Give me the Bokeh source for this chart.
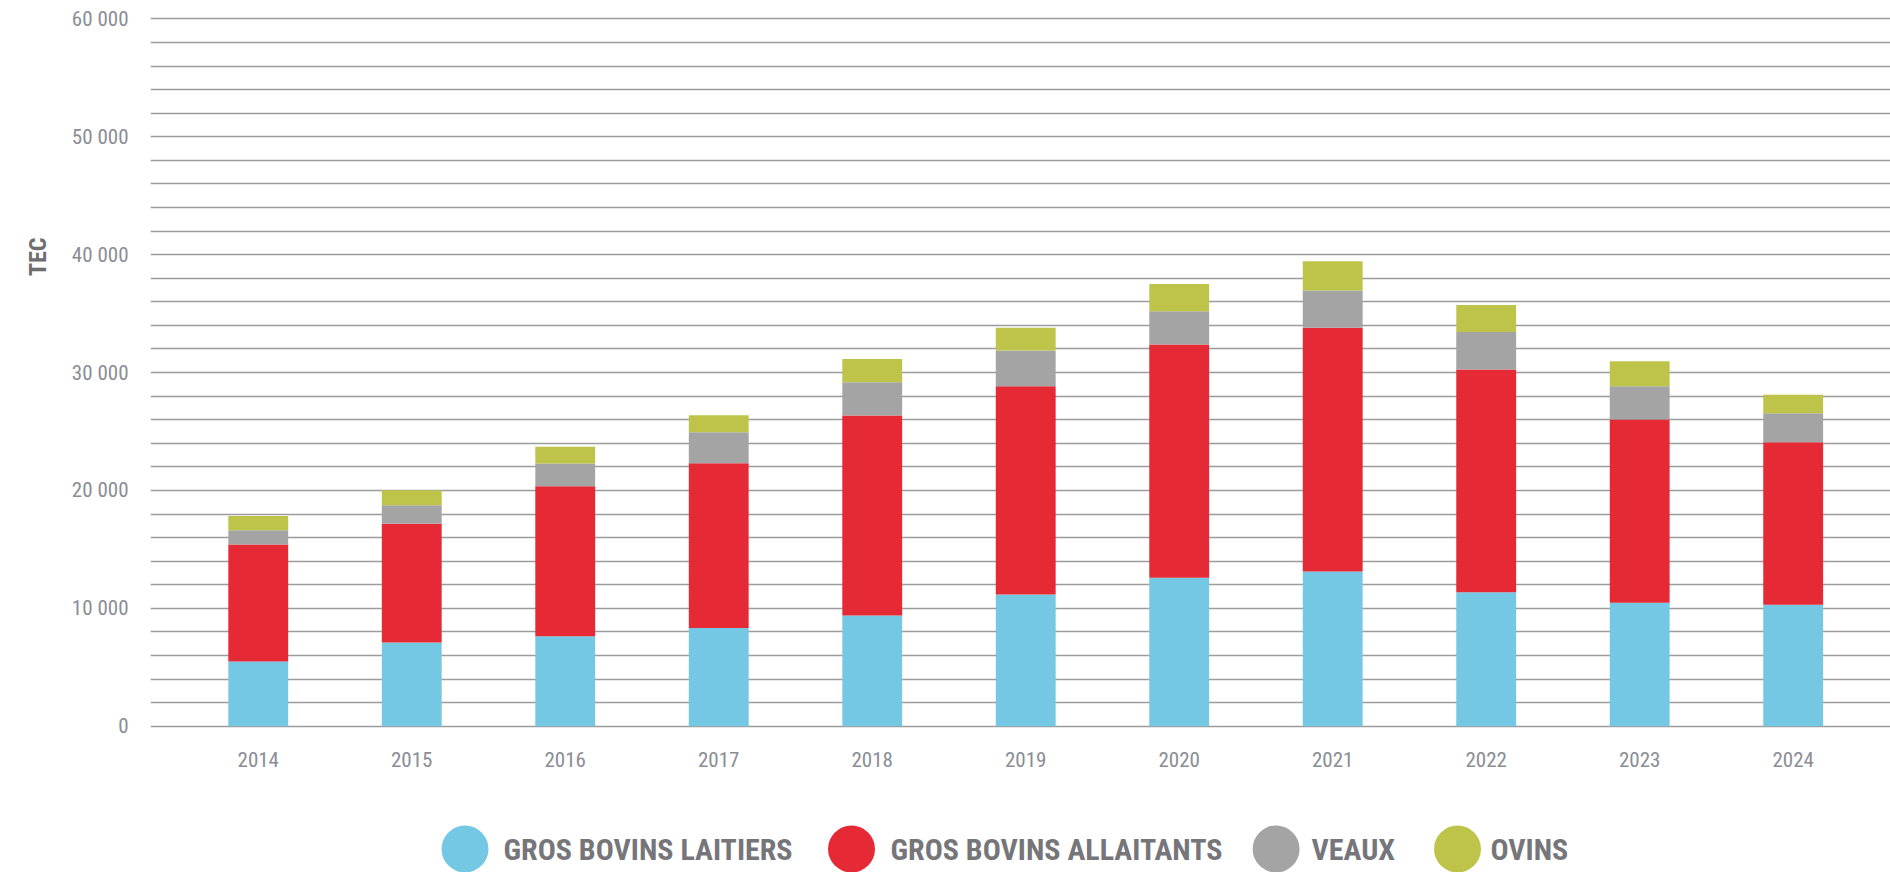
from bokeh.plotting import figure
from bokeh.models import Range1d, FixedTicker, Title, ColumnDataSource
from bokeh.layouts import column
from bokeh.embed import file_html
from bokeh.resources import INLINE
from bokeh.core.properties import value

# ---- data (TEC) ----
years = [2014, 2015, 2016, 2017, 2018, 2019, 2020, 2021, 2022, 2023, 2024]
gros_bovins_laitiers = [5490, 7100, 7630, 8340, 9390, 11170, 12590, 13120, 11370, 10470, 10300]
gros_bovins_allaitants = [9920, 10070, 12730, 13970, 16960, 17670, 19780, 20670, 18880, 15540, 13790]
veaux = [1210, 1580, 1920, 2630, 2830, 3030, 2830, 3160, 3200, 2830, 2460]
ovins = [1220, 1270, 1420, 1440, 1980, 1920, 2320, 2490, 2290, 2120, 1560]

series_keys = ["laitiers", "allaitants", "veaux", "ovins"]
series_labels = ["GROS BOVINS LAITIERS", "GROS BOVINS ALLAITANTS", "VEAUX", "OVINS"]
series_colors = ["#74C8E4", "#E52935", "#A4A4A4", "#BEC44A"]

y_ticks = [0, 10000, 20000, 30000, 40000, 50000, 60000]
y_tick_labels = ["0", "10 000", "20 000", "30 000", "40 000", "50 000", "60 000"]
y_axis_title = "TEC"

FONT = "Roboto Condensed"

source = ColumnDataSource(dict(
    year=years,
    laitiers=gros_bovins_laitiers,
    allaitants=gros_bovins_allaitants,
    veaux=veaux,
    ovins=ovins,
))

W = 1890
H1 = 790
FRAME_L = 150
p = figure(width=W, height=H1, output_backend="svg", toolbar_location=None,
           x_range=Range1d(2013.298, 2024.634), y_range=Range1d(-190, 60200),
           min_border_left=FRAME_L, min_border_right=0, min_border_top=16, min_border_bottom=62)
p.outline_line_color = None
p.background_fill_color = "white"
p.border_fill_color = "white"

p.vbar_stack(series_keys, x="year", width=0.39, color=series_colors, source=source,
             line_color=None)

# grid
p.xgrid.grid_line_color = None
p.ygrid.ticker = FixedTicker(ticks=list(range(0, 60001, 2000)))
p.ygrid.grid_line_color = "#9c9c9c"
p.ygrid.grid_line_width = 1.7
p.ygrid.level = "underlay"

# axes
p.xaxis.ticker = FixedTicker(ticks=years)
p.yaxis.ticker = FixedTicker(ticks=y_ticks)
p.yaxis.major_label_overrides = {t: l for t, l in zip(y_ticks, y_tick_labels)}
for ax in (p.xaxis, p.yaxis):
    ax.axis_line_color = None
    ax.major_tick_line_color = None
    ax.minor_tick_line_color = None
    ax.major_label_text_font = FONT
    ax.major_label_text_font_size = "21px"
    ax.major_label_text_color = "#8a8d94"
p.xaxis.major_label_standoff = 17
p.yaxis.major_label_standoff = 16

# y-axis title in the left panel, placed near the 40 000 level
p.add_layout(Title(text=y_axis_title, align="right", offset=221, standoff=34,
                   text_font=FONT, text_font_style="bold", text_font_size="24px",
                   text_color="#6e6e6e"), "left")

# ---- legend as separate strip (frame aligned with main frame) ----
LH = 872 - H1
leg = figure(width=W, height=LH, output_backend="svg", toolbar_location=None,
             x_range=Range1d(FRAME_L, W), y_range=Range1d(0, LH),
             min_border=0, min_border_left=FRAME_L, min_border_right=0,
             min_border_top=0, min_border_bottom=0)
leg.xaxis.visible = False
leg.yaxis.visible = False
leg.grid.visible = False
leg.outline_line_color = None

circle_x = [464.5, 851, 1275.6, 1457]
text_x = [503, 890, 1311, 1490]
cy = 872 - 848.5
leg.scatter(x=circle_x, y=[cy] * 4, size=47, color=series_colors, line_color=None)
leg.text(x=text_x, y=[cy] * 4, text=series_labels, text_align="left",
         text_baseline="middle", text_font=value(FONT), text_font_style="bold",
         text_font_size="30px", text_color="#76767a")

layout = column(p, leg, spacing=0)
open("out.html", "w").write(file_html(layout, INLINE))
